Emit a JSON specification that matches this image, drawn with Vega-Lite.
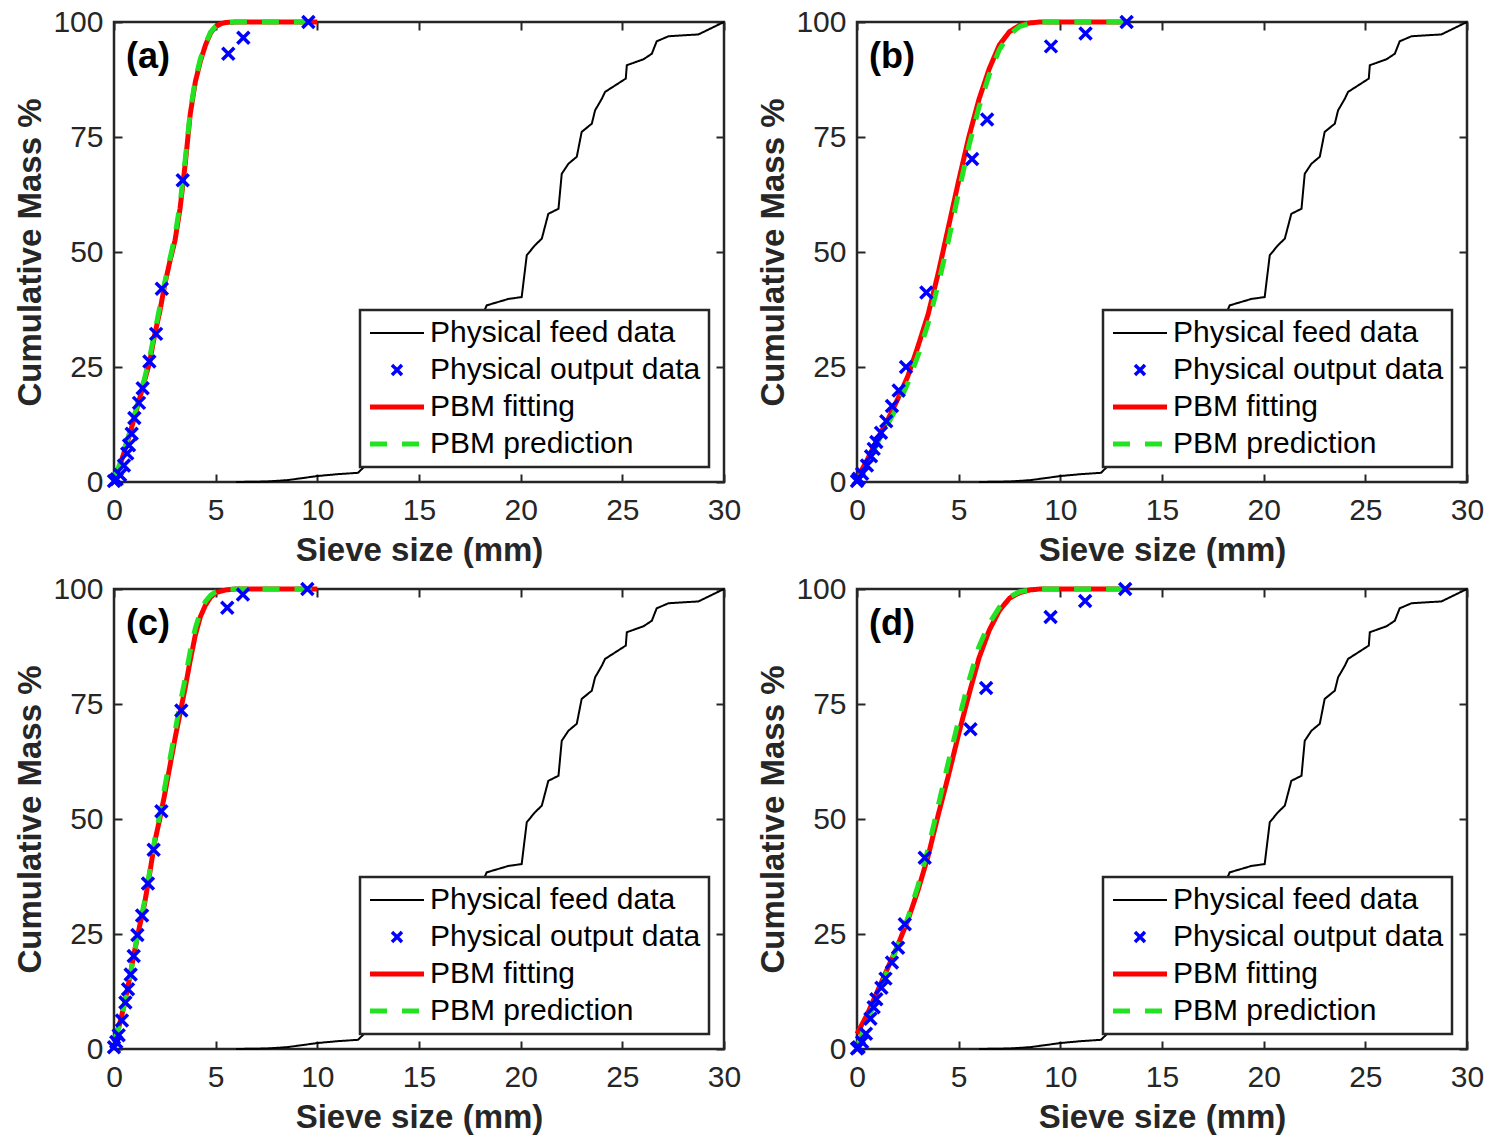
{
"$schema": "https://vega.github.io/schema/vega-lite/v6.json",
"padding": {"left": 13, "top": 5, "right": 0, "bottom": 0},
"config": {
 "font": "Liberation Sans",
 "view": {"stroke": "#262626", "strokeWidth": 2.5},
 "axis": {"labelFont": "Liberation Sans", "labelFontSize": 30, "labelColor": "#262626", "titleFont": "Liberation Sans", "titleFontSize": 33, "titleFontWeight": "bold", "titleColor": "#262626", "tickColor": "#262626", "tickWidth": 2, "tickSize": -8, "domain": false, "grid": false, "labelFlush": false, "labelOverlap": false},
 "legend": {"orient": "bottom-right", "offset": 15, "padding": 8, "fillColor": "white", "strokeColor": "#262626", "labelFont": "Liberation Sans", "labelFontSize": 30, "labelColor": "#000000", "symbolSize": 729, "symbolOffset": 14, "labelOffset": 18, "rowPadding": 7, "labelLimit": 500, "symbolStrokeWidth": 5, "direction": "vertical"}
},
"datasets": {
 "feed": [
  {"s":"Physical feed data","x":6.0,"y":0},{"s":"Physical feed data","x":7.5,"y":0.1},{"s":"Physical feed data","x":8.5,"y":0.4},{"s":"Physical feed data","x":9.2,"y":0.8},{"s":"Physical feed data","x":10.0,"y":1.3},{"s":"Physical feed data","x":11.0,"y":1.7},{"s":"Physical feed data","x":12.0,"y":2.0},{"s":"Physical feed data","x":12.3,"y":3.3},{"s":"Physical feed data","x":13.0,"y":5.0},{"s":"Physical feed data","x":14.0,"y":8.5},{"s":"Physical feed data","x":15.0,"y":13.0},{"s":"Physical feed data","x":16.0,"y":19.0},{"s":"Physical feed data","x":17.0,"y":26.0},{"s":"Physical feed data","x":17.8,"y":33.0},{"s":"Physical feed data","x":18.33,"y":38.4},{"s":"Physical feed data","x":19.4,"y":39.8},{"s":"Physical feed data","x":20.05,"y":40.2},{"s":"Physical feed data","x":20.3,"y":49.3},{"s":"Physical feed data","x":20.71,"y":51.5},{"s":"Physical feed data","x":21.04,"y":52.9},{"s":"Physical feed data","x":21.36,"y":58.3},{"s":"Physical feed data","x":21.86,"y":59.4},{"s":"Physical feed data","x":22.02,"y":67.0},{"s":"Physical feed data","x":22.35,"y":69.2},{"s":"Physical feed data","x":22.76,"y":70.7},{"s":"Physical feed data","x":23.0,"y":76.1},{"s":"Physical feed data","x":23.5,"y":77.9},{"s":"Physical feed data","x":23.66,"y":80.8},{"s":"Physical feed data","x":23.99,"y":83.3},{"s":"Physical feed data","x":24.15,"y":84.8},{"s":"Physical feed data","x":25.17,"y":87.7},{"s":"Physical feed data","x":25.22,"y":90.6},{"s":"Physical feed data","x":26.04,"y":91.9},{"s":"Physical feed data","x":26.45,"y":93.1},{"s":"Physical feed data","x":26.69,"y":95.8},{"s":"Physical feed data","x":27.27,"y":96.9},{"s":"Physical feed data","x":28.74,"y":97.3},{"s":"Physical feed data","x":30.0,"y":100}
 ],
 "curves": [
  {"p":"a","s":"PBM fitting","x":0,"y":0.5},{"p":"a","s":"PBM fitting","x":0.25,"y":3},{"p":"a","s":"PBM fitting","x":0.5,"y":6.5},{"p":"a","s":"PBM fitting","x":0.75,"y":10},{"p":"a","s":"PBM fitting","x":1.0,"y":14},{"p":"a","s":"PBM fitting","x":1.25,"y":18},{"p":"a","s":"PBM fitting","x":1.5,"y":22},{"p":"a","s":"PBM fitting","x":1.75,"y":26},{"p":"a","s":"PBM fitting","x":2.0,"y":32},{"p":"a","s":"PBM fitting","x":2.25,"y":37},{"p":"a","s":"PBM fitting","x":2.5,"y":43},{"p":"a","s":"PBM fitting","x":2.75,"y":48},{"p":"a","s":"PBM fitting","x":3.0,"y":52.5},{"p":"a","s":"PBM fitting","x":3.25,"y":59.5},{"p":"a","s":"PBM fitting","x":3.5,"y":69},{"p":"a","s":"PBM fitting","x":3.75,"y":80},{"p":"a","s":"PBM fitting","x":4.0,"y":87},{"p":"a","s":"PBM fitting","x":4.25,"y":91.5},{"p":"a","s":"PBM fitting","x":4.5,"y":95},{"p":"a","s":"PBM fitting","x":4.75,"y":97.6},{"p":"a","s":"PBM fitting","x":5.0,"y":99},{"p":"a","s":"PBM fitting","x":5.25,"y":99.6},{"p":"a","s":"PBM fitting","x":5.5,"y":99.9},{"p":"a","s":"PBM fitting","x":6,"y":100},{"p":"a","s":"PBM fitting","x":10,"y":100},
  {"p":"a","s":"PBM prediction","x":0,"y":1},{"p":"a","s":"PBM prediction","x":0.25,"y":3.5},{"p":"a","s":"PBM prediction","x":0.5,"y":7},{"p":"a","s":"PBM prediction","x":0.75,"y":10.5},{"p":"a","s":"PBM prediction","x":1.0,"y":14.5},{"p":"a","s":"PBM prediction","x":1.25,"y":18.5},{"p":"a","s":"PBM prediction","x":1.5,"y":22.5},{"p":"a","s":"PBM prediction","x":1.75,"y":27},{"p":"a","s":"PBM prediction","x":2.0,"y":32.5},{"p":"a","s":"PBM prediction","x":2.25,"y":38},{"p":"a","s":"PBM prediction","x":2.5,"y":43.5},{"p":"a","s":"PBM prediction","x":2.75,"y":48.5},{"p":"a","s":"PBM prediction","x":3.0,"y":53.5},{"p":"a","s":"PBM prediction","x":3.25,"y":60.5},{"p":"a","s":"PBM prediction","x":3.5,"y":70},{"p":"a","s":"PBM prediction","x":3.75,"y":80.5},{"p":"a","s":"PBM prediction","x":4.0,"y":87.5},{"p":"a","s":"PBM prediction","x":4.25,"y":92},{"p":"a","s":"PBM prediction","x":4.5,"y":95.3},{"p":"a","s":"PBM prediction","x":4.75,"y":97.8},{"p":"a","s":"PBM prediction","x":5.0,"y":99.1},{"p":"a","s":"PBM prediction","x":5.25,"y":99.7},{"p":"a","s":"PBM prediction","x":5.5,"y":99.9},{"p":"a","s":"PBM prediction","x":6,"y":100},{"p":"a","s":"PBM prediction","x":10,"y":100},
  {"p":"b","s":"PBM fitting","x":0,"y":0.7},{"p":"b","s":"PBM fitting","x":0.5,"y":4.8},{"p":"b","s":"PBM fitting","x":1.0,"y":9.3},{"p":"b","s":"PBM fitting","x":1.5,"y":13.4},{"p":"b","s":"PBM fitting","x":2.0,"y":18},{"p":"b","s":"PBM fitting","x":2.5,"y":23},{"p":"b","s":"PBM fitting","x":3.0,"y":29.5},{"p":"b","s":"PBM fitting","x":3.5,"y":36.5},{"p":"b","s":"PBM fitting","x":4.0,"y":45.5},{"p":"b","s":"PBM fitting","x":4.5,"y":55.5},{"p":"b","s":"PBM fitting","x":5.0,"y":65.5},{"p":"b","s":"PBM fitting","x":5.5,"y":75},{"p":"b","s":"PBM fitting","x":6.0,"y":83.2},{"p":"b","s":"PBM fitting","x":6.5,"y":89.8},{"p":"b","s":"PBM fitting","x":7.0,"y":95},{"p":"b","s":"PBM fitting","x":7.5,"y":97.9},{"p":"b","s":"PBM fitting","x":8.0,"y":99.3},{"p":"b","s":"PBM fitting","x":8.5,"y":99.8},{"p":"b","s":"PBM fitting","x":9.0,"y":100},{"p":"b","s":"PBM fitting","x":13.3,"y":100},
  {"p":"b","s":"PBM prediction","x":0,"y":0},{"p":"b","s":"PBM prediction","x":0.5,"y":3.8},{"p":"b","s":"PBM prediction","x":1.0,"y":8.5},{"p":"b","s":"PBM prediction","x":1.5,"y":12.5},{"p":"b","s":"PBM prediction","x":2.0,"y":16.5},{"p":"b","s":"PBM prediction","x":2.5,"y":21.5},{"p":"b","s":"PBM prediction","x":3.0,"y":27.5},{"p":"b","s":"PBM prediction","x":3.5,"y":34.5},{"p":"b","s":"PBM prediction","x":4.0,"y":43},{"p":"b","s":"PBM prediction","x":4.5,"y":52.5},{"p":"b","s":"PBM prediction","x":5.0,"y":63},{"p":"b","s":"PBM prediction","x":5.5,"y":73},{"p":"b","s":"PBM prediction","x":6.0,"y":81.5},{"p":"b","s":"PBM prediction","x":6.5,"y":88.5},{"p":"b","s":"PBM prediction","x":7.0,"y":94},{"p":"b","s":"PBM prediction","x":7.5,"y":97.3},{"p":"b","s":"PBM prediction","x":8.0,"y":99},{"p":"b","s":"PBM prediction","x":8.5,"y":99.7},{"p":"b","s":"PBM prediction","x":9.0,"y":100},{"p":"b","s":"PBM prediction","x":13.3,"y":100},
  {"p":"c","s":"PBM fitting","x":0,"y":2},{"p":"c","s":"PBM fitting","x":0.25,"y":5},{"p":"c","s":"PBM fitting","x":0.5,"y":9.5},{"p":"c","s":"PBM fitting","x":0.75,"y":15},{"p":"c","s":"PBM fitting","x":1.0,"y":21},{"p":"c","s":"PBM fitting","x":1.25,"y":26.5},{"p":"c","s":"PBM fitting","x":1.5,"y":31.5},{"p":"c","s":"PBM fitting","x":1.75,"y":38},{"p":"c","s":"PBM fitting","x":2.0,"y":45},{"p":"c","s":"PBM fitting","x":2.25,"y":50},{"p":"c","s":"PBM fitting","x":2.5,"y":55.5},{"p":"c","s":"PBM fitting","x":2.75,"y":61.5},{"p":"c","s":"PBM fitting","x":3.0,"y":67.5},{"p":"c","s":"PBM fitting","x":3.25,"y":73},{"p":"c","s":"PBM fitting","x":3.5,"y":78.5},{"p":"c","s":"PBM fitting","x":3.75,"y":84.5},{"p":"c","s":"PBM fitting","x":4.0,"y":90},{"p":"c","s":"PBM fitting","x":4.25,"y":94},{"p":"c","s":"PBM fitting","x":4.5,"y":96.5},{"p":"c","s":"PBM fitting","x":4.75,"y":98.2},{"p":"c","s":"PBM fitting","x":5.0,"y":99.2},{"p":"c","s":"PBM fitting","x":5.5,"y":99.8},{"p":"c","s":"PBM fitting","x":6,"y":100},{"p":"c","s":"PBM fitting","x":10,"y":100},
  {"p":"c","s":"PBM prediction","x":0,"y":1.5},{"p":"c","s":"PBM prediction","x":0.25,"y":4.8},{"p":"c","s":"PBM prediction","x":0.5,"y":9.5},{"p":"c","s":"PBM prediction","x":0.75,"y":15},{"p":"c","s":"PBM prediction","x":1.0,"y":21},{"p":"c","s":"PBM prediction","x":1.25,"y":26.8},{"p":"c","s":"PBM prediction","x":1.5,"y":32},{"p":"c","s":"PBM prediction","x":1.75,"y":38.5},{"p":"c","s":"PBM prediction","x":2.0,"y":45.5},{"p":"c","s":"PBM prediction","x":2.25,"y":51},{"p":"c","s":"PBM prediction","x":2.5,"y":57},{"p":"c","s":"PBM prediction","x":2.75,"y":63},{"p":"c","s":"PBM prediction","x":3.0,"y":69},{"p":"c","s":"PBM prediction","x":3.25,"y":75},{"p":"c","s":"PBM prediction","x":3.5,"y":80.5},{"p":"c","s":"PBM prediction","x":3.75,"y":86.5},{"p":"c","s":"PBM prediction","x":4.0,"y":91.5},{"p":"c","s":"PBM prediction","x":4.25,"y":95},{"p":"c","s":"PBM prediction","x":4.5,"y":97.3},{"p":"c","s":"PBM prediction","x":4.75,"y":98.6},{"p":"c","s":"PBM prediction","x":5.0,"y":99.4},{"p":"c","s":"PBM prediction","x":5.5,"y":99.9},{"p":"c","s":"PBM prediction","x":6,"y":100},{"p":"c","s":"PBM prediction","x":10,"y":100},
  {"p":"d","s":"PBM fitting","x":0,"y":3.3},{"p":"d","s":"PBM fitting","x":0.5,"y":7.5},{"p":"d","s":"PBM fitting","x":1.0,"y":12.5},{"p":"d","s":"PBM fitting","x":1.5,"y":17.5},{"p":"d","s":"PBM fitting","x":2.0,"y":22.5},{"p":"d","s":"PBM fitting","x":2.5,"y":28},{"p":"d","s":"PBM fitting","x":3.0,"y":34.5},{"p":"d","s":"PBM fitting","x":3.5,"y":42},{"p":"d","s":"PBM fitting","x":4.0,"y":51},{"p":"d","s":"PBM fitting","x":4.5,"y":59.5},{"p":"d","s":"PBM fitting","x":5.0,"y":68.5},{"p":"d","s":"PBM fitting","x":5.5,"y":77},{"p":"d","s":"PBM fitting","x":6.0,"y":85},{"p":"d","s":"PBM fitting","x":6.5,"y":91},{"p":"d","s":"PBM fitting","x":7.0,"y":95.3},{"p":"d","s":"PBM fitting","x":7.5,"y":98},{"p":"d","s":"PBM fitting","x":8.0,"y":99.2},{"p":"d","s":"PBM fitting","x":8.5,"y":99.8},{"p":"d","s":"PBM fitting","x":9.0,"y":100},{"p":"d","s":"PBM fitting","x":13.4,"y":100},
  {"p":"d","s":"PBM prediction","x":0,"y":0.5},{"p":"d","s":"PBM prediction","x":0.5,"y":6},{"p":"d","s":"PBM prediction","x":1.0,"y":11.5},{"p":"d","s":"PBM prediction","x":1.5,"y":17},{"p":"d","s":"PBM prediction","x":2.0,"y":22.5},{"p":"d","s":"PBM prediction","x":2.5,"y":28.5},{"p":"d","s":"PBM prediction","x":3.0,"y":35.5},{"p":"d","s":"PBM prediction","x":3.5,"y":43.5},{"p":"d","s":"PBM prediction","x":4.0,"y":53},{"p":"d","s":"PBM prediction","x":4.5,"y":62.5},{"p":"d","s":"PBM prediction","x":5.0,"y":71.5},{"p":"d","s":"PBM prediction","x":5.5,"y":80},{"p":"d","s":"PBM prediction","x":6.0,"y":87.5},{"p":"d","s":"PBM prediction","x":6.5,"y":92.5},{"p":"d","s":"PBM prediction","x":7.0,"y":96},{"p":"d","s":"PBM prediction","x":7.5,"y":98.3},{"p":"d","s":"PBM prediction","x":8.0,"y":99.4},{"p":"d","s":"PBM prediction","x":8.5,"y":99.8},{"p":"d","s":"PBM prediction","x":9.0,"y":100},{"p":"d","s":"PBM prediction","x":13.4,"y":100}
 ],
 "obs": [
  {"p":"a","s":"Physical output data","x":0,"y":0.2},{"p":"a","s":"Physical output data","x":0.13,"y":0.6},{"p":"a","s":"Physical output data","x":0.3,"y":1.5},{"p":"a","s":"Physical output data","x":0.49,"y":3.6},{"p":"a","s":"Physical output data","x":0.65,"y":6.2},{"p":"a","s":"Physical output data","x":0.74,"y":8.0},{"p":"a","s":"Physical output data","x":0.87,"y":10.5},{"p":"a","s":"Physical output data","x":1.0,"y":13.9},{"p":"a","s":"Physical output data","x":1.23,"y":17.2},{"p":"a","s":"Physical output data","x":1.41,"y":20.4},{"p":"a","s":"Physical output data","x":1.74,"y":26.2},{"p":"a","s":"Physical output data","x":2.07,"y":32.2},{"p":"a","s":"Physical output data","x":2.35,"y":42.0},{"p":"a","s":"Physical output data","x":3.38,"y":65.6},{"p":"a","s":"Physical output data","x":5.62,"y":93.1},{"p":"a","s":"Physical output data","x":6.36,"y":96.6},{"p":"a","s":"Physical output data","x":9.56,"y":100},
  {"p":"b","s":"Physical output data","x":0,"y":0.2},{"p":"b","s":"Physical output data","x":0.08,"y":0.7},{"p":"b","s":"Physical output data","x":0.25,"y":1.8},{"p":"b","s":"Physical output data","x":0.49,"y":3.6},{"p":"b","s":"Physical output data","x":0.69,"y":5.6},{"p":"b","s":"Physical output data","x":0.82,"y":7.2},{"p":"b","s":"Physical output data","x":0.95,"y":8.7},{"p":"b","s":"Physical output data","x":1.18,"y":10.7},{"p":"b","s":"Physical output data","x":1.44,"y":13.2},{"p":"b","s":"Physical output data","x":1.72,"y":16.5},{"p":"b","s":"Physical output data","x":2.05,"y":19.9},{"p":"b","s":"Physical output data","x":2.41,"y":25.0},{"p":"b","s":"Physical output data","x":3.41,"y":41.2},{"p":"b","s":"Physical output data","x":5.66,"y":70.2},{"p":"b","s":"Physical output data","x":6.4,"y":78.8},{"p":"b","s":"Physical output data","x":9.54,"y":94.7},{"p":"b","s":"Physical output data","x":11.24,"y":97.5},{"p":"b","s":"Physical output data","x":13.26,"y":100},
  {"p":"c","s":"Physical output data","x":0,"y":0.4},{"p":"c","s":"Physical output data","x":0.11,"y":1.5},{"p":"c","s":"Physical output data","x":0.23,"y":3},{"p":"c","s":"Physical output data","x":0.39,"y":6.2},{"p":"c","s":"Physical output data","x":0.56,"y":10.1},{"p":"c","s":"Physical output data","x":0.69,"y":13},{"p":"c","s":"Physical output data","x":0.82,"y":16.2},{"p":"c","s":"Physical output data","x":0.97,"y":20.2},{"p":"c","s":"Physical output data","x":1.15,"y":24.8},{"p":"c","s":"Physical output data","x":1.38,"y":29},{"p":"c","s":"Physical output data","x":1.67,"y":36},{"p":"c","s":"Physical output data","x":1.95,"y":43.3},{"p":"c","s":"Physical output data","x":2.33,"y":51.7},{"p":"c","s":"Physical output data","x":3.31,"y":73.6},{"p":"c","s":"Physical output data","x":5.57,"y":95.9},{"p":"c","s":"Physical output data","x":6.34,"y":98.8},{"p":"c","s":"Physical output data","x":9.51,"y":100},
  {"p":"d","s":"Physical output data","x":0,"y":0.1},{"p":"d","s":"Physical output data","x":0.08,"y":0.4},{"p":"d","s":"Physical output data","x":0.25,"y":1.5},{"p":"d","s":"Physical output data","x":0.44,"y":3.3},{"p":"d","s":"Physical output data","x":0.66,"y":6.6},{"p":"d","s":"Physical output data","x":0.82,"y":9.1},{"p":"d","s":"Physical output data","x":0.95,"y":10.8},{"p":"d","s":"Physical output data","x":1.2,"y":13.3},{"p":"d","s":"Physical output data","x":1.4,"y":15.3},{"p":"d","s":"Physical output data","x":1.72,"y":18.8},{"p":"d","s":"Physical output data","x":2.02,"y":22.0},{"p":"d","s":"Physical output data","x":2.35,"y":27.1},{"p":"d","s":"Physical output data","x":3.33,"y":41.6},{"p":"d","s":"Physical output data","x":5.58,"y":69.5},{"p":"d","s":"Physical output data","x":6.35,"y":78.5},{"p":"d","s":"Physical output data","x":9.52,"y":93.9},{"p":"d","s":"Physical output data","x":11.22,"y":97.4},{"p":"d","s":"Physical output data","x":13.19,"y":100}
 ]
},
"columns": 2,
"spacing": {"row": 107, "column": 133},
"bounds": "flush",
"resolve": {"scale": {"color": "independent", "shape": "independent", "strokeDash": "independent"}, "legend": {"color": "independent", "shape": "independent", "strokeDash": "independent"}},
"concat": [
 {"width": 610, "height": 460,
  "title": {"text": "(a)", "anchor": "start", "frame": "group", "orient": "top", "offset": -97, "dx": 12, "fontSize": 36, "fontWeight": "bold", "font": "Liberation Sans", "color": "#000000", "baseline": "alphabetic"},
  "layer": [
   {"data": {"name": "feed"}, "mark": {"type": "line", "strokeWidth": 2},
    "encoding": {
     "x": {"field": "x", "type": "quantitative", "scale": {"domain": [0, 30], "nice": false, "zero": false}, "axis": {"orient": "bottom", "values": [0,5,10,15,20,25,30], "title": "Sieve size (mm)", "labelPadding": 21, "titlePadding": 9}},
     "y": {"field": "y", "type": "quantitative", "scale": {"domain": [0, 100], "nice": false}, "axis": {"orient": "left", "values": [0,25,50,75,100], "title": "Cumulative Mass %", "labelPadding": 19, "titlePadding": 5}},
     "color": {"field": "s", "type": "nominal", "scale": {"domain": ["Physical feed data","Physical output data","PBM fitting","PBM prediction"], "range": ["#000000","#0000ff","#ff0000","#22e322"]}, "legend": {"title": null, "encode": {"legend": {"update": {"strokeWidth": {"value": 2.5}}}, "symbols": {"update": {"strokeWidth": {"signal": "datum.value === 'Physical feed data' ? 2 : (datum.value === 'Physical output data' ? 3.5 : 5)"}, "size": {"signal": "datum.value === 'Physical output data' ? 100 : 729"}}}}}},
     "strokeDash": {"field": "s", "type": "nominal", "scale": {"domain": ["Physical feed data","Physical output data","PBM fitting","PBM prediction"], "range": [[1,0],[1,0],[1,0],[17,15]]}, "legend": null}
    }},
   {"data": {"name": "curves"}, "transform": [{"filter": "datum.p === 'a'"}], "mark": {"type": "line", "strokeWidth": 5},
    "encoding": {
     "x": {"field": "x", "type": "quantitative", "axis": {"orient": "top", "values": [0,5,10,15,20,25,30], "labels": false, "title": null}},
     "y": {"field": "y", "type": "quantitative", "axis": {"orient": "right", "values": [0,25,50,75,100], "labels": false, "title": null}},
     "color": {"field": "s", "type": "nominal"},
     "strokeDash": {"field": "s", "type": "nominal", "legend": null}
    }},
   {"data": {"name": "obs"}, "transform": [{"filter": "datum.p === 'a'"}], "mark": {"type": "point", "filled": false, "strokeWidth": 3.5, "size": 144, "opacity": 1},
    "encoding": {
     "x": {"field": "x", "type": "quantitative", "axis": null},
     "y": {"field": "y", "type": "quantitative", "axis": null},
     "color": {"field": "s", "type": "nominal"},
     "shape": {"field": "s", "type": "nominal", "scale": {"domain": ["Physical feed data","Physical output data","PBM fitting","PBM prediction"], "range": ["M-2,0H2","M-1,-1L1,1M-1,1L1,-1","M-2,0H2","M-2,0H2"]}, "legend": {"title": null, "encode": {"legend": {"update": {"strokeWidth": {"value": 2.5}}}, "symbols": {"update": {"strokeWidth": {"signal": "datum.value === 'Physical feed data' ? 2 : (datum.value === 'Physical output data' ? 3.5 : 5)"}, "size": {"signal": "datum.value === 'Physical output data' ? 100 : 729"}}}}}}
    }}
  ],
  "resolve": {"axis": {"x": "independent", "y": "independent"}}
 },
 {"width": 610, "height": 460,
  "title": {"text": "(b)", "anchor": "start", "frame": "group", "orient": "top", "offset": -97, "dx": 12, "fontSize": 36, "fontWeight": "bold", "font": "Liberation Sans", "color": "#000000", "baseline": "alphabetic"},
  "layer": [
   {"data": {"name": "feed"}, "mark": {"type": "line", "strokeWidth": 2},
    "encoding": {
     "x": {"field": "x", "type": "quantitative", "scale": {"domain": [0, 30], "nice": false, "zero": false}, "axis": {"orient": "bottom", "values": [0,5,10,15,20,25,30], "title": "Sieve size (mm)", "labelPadding": 21, "titlePadding": 9}},
     "y": {"field": "y", "type": "quantitative", "scale": {"domain": [0, 100], "nice": false}, "axis": {"orient": "left", "values": [0,25,50,75,100], "title": "Cumulative Mass %", "labelPadding": 19, "titlePadding": 5}},
     "color": {"field": "s", "type": "nominal", "scale": {"domain": ["Physical feed data","Physical output data","PBM fitting","PBM prediction"], "range": ["#000000","#0000ff","#ff0000","#22e322"]}, "legend": {"title": null, "encode": {"legend": {"update": {"strokeWidth": {"value": 2.5}}}, "symbols": {"update": {"strokeWidth": {"signal": "datum.value === 'Physical feed data' ? 2 : (datum.value === 'Physical output data' ? 3.5 : 5)"}, "size": {"signal": "datum.value === 'Physical output data' ? 100 : 729"}}}}}},
     "strokeDash": {"field": "s", "type": "nominal", "scale": {"domain": ["Physical feed data","Physical output data","PBM fitting","PBM prediction"], "range": [[1,0],[1,0],[1,0],[17,15]]}, "legend": null}
    }},
   {"data": {"name": "curves"}, "transform": [{"filter": "datum.p === 'b'"}], "mark": {"type": "line", "strokeWidth": 5},
    "encoding": {
     "x": {"field": "x", "type": "quantitative", "axis": {"orient": "top", "values": [0,5,10,15,20,25,30], "labels": false, "title": null}},
     "y": {"field": "y", "type": "quantitative", "axis": {"orient": "right", "values": [0,25,50,75,100], "labels": false, "title": null}},
     "color": {"field": "s", "type": "nominal"},
     "strokeDash": {"field": "s", "type": "nominal", "legend": null}
    }},
   {"data": {"name": "obs"}, "transform": [{"filter": "datum.p === 'b'"}], "mark": {"type": "point", "filled": false, "strokeWidth": 3.5, "size": 144, "opacity": 1},
    "encoding": {
     "x": {"field": "x", "type": "quantitative", "axis": null},
     "y": {"field": "y", "type": "quantitative", "axis": null},
     "color": {"field": "s", "type": "nominal"},
     "shape": {"field": "s", "type": "nominal", "scale": {"domain": ["Physical feed data","Physical output data","PBM fitting","PBM prediction"], "range": ["M-2,0H2","M-1,-1L1,1M-1,1L1,-1","M-2,0H2","M-2,0H2"]}, "legend": {"title": null, "encode": {"legend": {"update": {"strokeWidth": {"value": 2.5}}}, "symbols": {"update": {"strokeWidth": {"signal": "datum.value === 'Physical feed data' ? 2 : (datum.value === 'Physical output data' ? 3.5 : 5)"}, "size": {"signal": "datum.value === 'Physical output data' ? 100 : 729"}}}}}}
    }}
  ],
  "resolve": {"axis": {"x": "independent", "y": "independent"}}
 },
 {"width": 610, "height": 460,
  "title": {"text": "(c)", "anchor": "start", "frame": "group", "orient": "top", "offset": -97, "dx": 12, "fontSize": 36, "fontWeight": "bold", "font": "Liberation Sans", "color": "#000000", "baseline": "alphabetic"},
  "layer": [
   {"data": {"name": "feed"}, "mark": {"type": "line", "strokeWidth": 2},
    "encoding": {
     "x": {"field": "x", "type": "quantitative", "scale": {"domain": [0, 30], "nice": false, "zero": false}, "axis": {"orient": "bottom", "values": [0,5,10,15,20,25,30], "title": "Sieve size (mm)", "labelPadding": 21, "titlePadding": 9}},
     "y": {"field": "y", "type": "quantitative", "scale": {"domain": [0, 100], "nice": false}, "axis": {"orient": "left", "values": [0,25,50,75,100], "title": "Cumulative Mass %", "labelPadding": 19, "titlePadding": 5}},
     "color": {"field": "s", "type": "nominal", "scale": {"domain": ["Physical feed data","Physical output data","PBM fitting","PBM prediction"], "range": ["#000000","#0000ff","#ff0000","#22e322"]}, "legend": {"title": null, "encode": {"legend": {"update": {"strokeWidth": {"value": 2.5}}}, "symbols": {"update": {"strokeWidth": {"signal": "datum.value === 'Physical feed data' ? 2 : (datum.value === 'Physical output data' ? 3.5 : 5)"}, "size": {"signal": "datum.value === 'Physical output data' ? 100 : 729"}}}}}},
     "strokeDash": {"field": "s", "type": "nominal", "scale": {"domain": ["Physical feed data","Physical output data","PBM fitting","PBM prediction"], "range": [[1,0],[1,0],[1,0],[17,15]]}, "legend": null}
    }},
   {"data": {"name": "curves"}, "transform": [{"filter": "datum.p === 'c'"}], "mark": {"type": "line", "strokeWidth": 5},
    "encoding": {
     "x": {"field": "x", "type": "quantitative", "axis": {"orient": "top", "values": [0,5,10,15,20,25,30], "labels": false, "title": null}},
     "y": {"field": "y", "type": "quantitative", "axis": {"orient": "right", "values": [0,25,50,75,100], "labels": false, "title": null}},
     "color": {"field": "s", "type": "nominal"},
     "strokeDash": {"field": "s", "type": "nominal", "legend": null}
    }},
   {"data": {"name": "obs"}, "transform": [{"filter": "datum.p === 'c'"}], "mark": {"type": "point", "filled": false, "strokeWidth": 3.5, "size": 144, "opacity": 1},
    "encoding": {
     "x": {"field": "x", "type": "quantitative", "axis": null},
     "y": {"field": "y", "type": "quantitative", "axis": null},
     "color": {"field": "s", "type": "nominal"},
     "shape": {"field": "s", "type": "nominal", "scale": {"domain": ["Physical feed data","Physical output data","PBM fitting","PBM prediction"], "range": ["M-2,0H2","M-1,-1L1,1M-1,1L1,-1","M-2,0H2","M-2,0H2"]}, "legend": {"title": null, "encode": {"legend": {"update": {"strokeWidth": {"value": 2.5}}}, "symbols": {"update": {"strokeWidth": {"signal": "datum.value === 'Physical feed data' ? 2 : (datum.value === 'Physical output data' ? 3.5 : 5)"}, "size": {"signal": "datum.value === 'Physical output data' ? 100 : 729"}}}}}}
    }}
  ],
  "resolve": {"axis": {"x": "independent", "y": "independent"}}
 },
 {"width": 610, "height": 460,
  "title": {"text": "(d)", "anchor": "start", "frame": "group", "orient": "top", "offset": -97, "dx": 12, "fontSize": 36, "fontWeight": "bold", "font": "Liberation Sans", "color": "#000000", "baseline": "alphabetic"},
  "layer": [
   {"data": {"name": "feed"}, "mark": {"type": "line", "strokeWidth": 2},
    "encoding": {
     "x": {"field": "x", "type": "quantitative", "scale": {"domain": [0, 30], "nice": false, "zero": false}, "axis": {"orient": "bottom", "values": [0,5,10,15,20,25,30], "title": "Sieve size (mm)", "labelPadding": 21, "titlePadding": 9}},
     "y": {"field": "y", "type": "quantitative", "scale": {"domain": [0, 100], "nice": false}, "axis": {"orient": "left", "values": [0,25,50,75,100], "title": "Cumulative Mass %", "labelPadding": 19, "titlePadding": 5}},
     "color": {"field": "s", "type": "nominal", "scale": {"domain": ["Physical feed data","Physical output data","PBM fitting","PBM prediction"], "range": ["#000000","#0000ff","#ff0000","#22e322"]}, "legend": {"title": null, "encode": {"legend": {"update": {"strokeWidth": {"value": 2.5}}}, "symbols": {"update": {"strokeWidth": {"signal": "datum.value === 'Physical feed data' ? 2 : (datum.value === 'Physical output data' ? 3.5 : 5)"}, "size": {"signal": "datum.value === 'Physical output data' ? 100 : 729"}}}}}},
     "strokeDash": {"field": "s", "type": "nominal", "scale": {"domain": ["Physical feed data","Physical output data","PBM fitting","PBM prediction"], "range": [[1,0],[1,0],[1,0],[17,15]]}, "legend": null}
    }},
   {"data": {"name": "curves"}, "transform": [{"filter": "datum.p === 'd'"}], "mark": {"type": "line", "strokeWidth": 5},
    "encoding": {
     "x": {"field": "x", "type": "quantitative", "axis": {"orient": "top", "values": [0,5,10,15,20,25,30], "labels": false, "title": null}},
     "y": {"field": "y", "type": "quantitative", "axis": {"orient": "right", "values": [0,25,50,75,100], "labels": false, "title": null}},
     "color": {"field": "s", "type": "nominal"},
     "strokeDash": {"field": "s", "type": "nominal", "legend": null}
    }},
   {"data": {"name": "obs"}, "transform": [{"filter": "datum.p === 'd'"}], "mark": {"type": "point", "filled": false, "strokeWidth": 3.5, "size": 144, "opacity": 1},
    "encoding": {
     "x": {"field": "x", "type": "quantitative", "axis": null},
     "y": {"field": "y", "type": "quantitative", "axis": null},
     "color": {"field": "s", "type": "nominal"},
     "shape": {"field": "s", "type": "nominal", "scale": {"domain": ["Physical feed data","Physical output data","PBM fitting","PBM prediction"], "range": ["M-2,0H2","M-1,-1L1,1M-1,1L1,-1","M-2,0H2","M-2,0H2"]}, "legend": {"title": null, "encode": {"legend": {"update": {"strokeWidth": {"value": 2.5}}}, "symbols": {"update": {"strokeWidth": {"signal": "datum.value === 'Physical feed data' ? 2 : (datum.value === 'Physical output data' ? 3.5 : 5)"}, "size": {"signal": "datum.value === 'Physical output data' ? 100 : 729"}}}}}}
    }}
  ],
  "resolve": {"axis": {"x": "independent", "y": "independent"}}
 }
]
}
